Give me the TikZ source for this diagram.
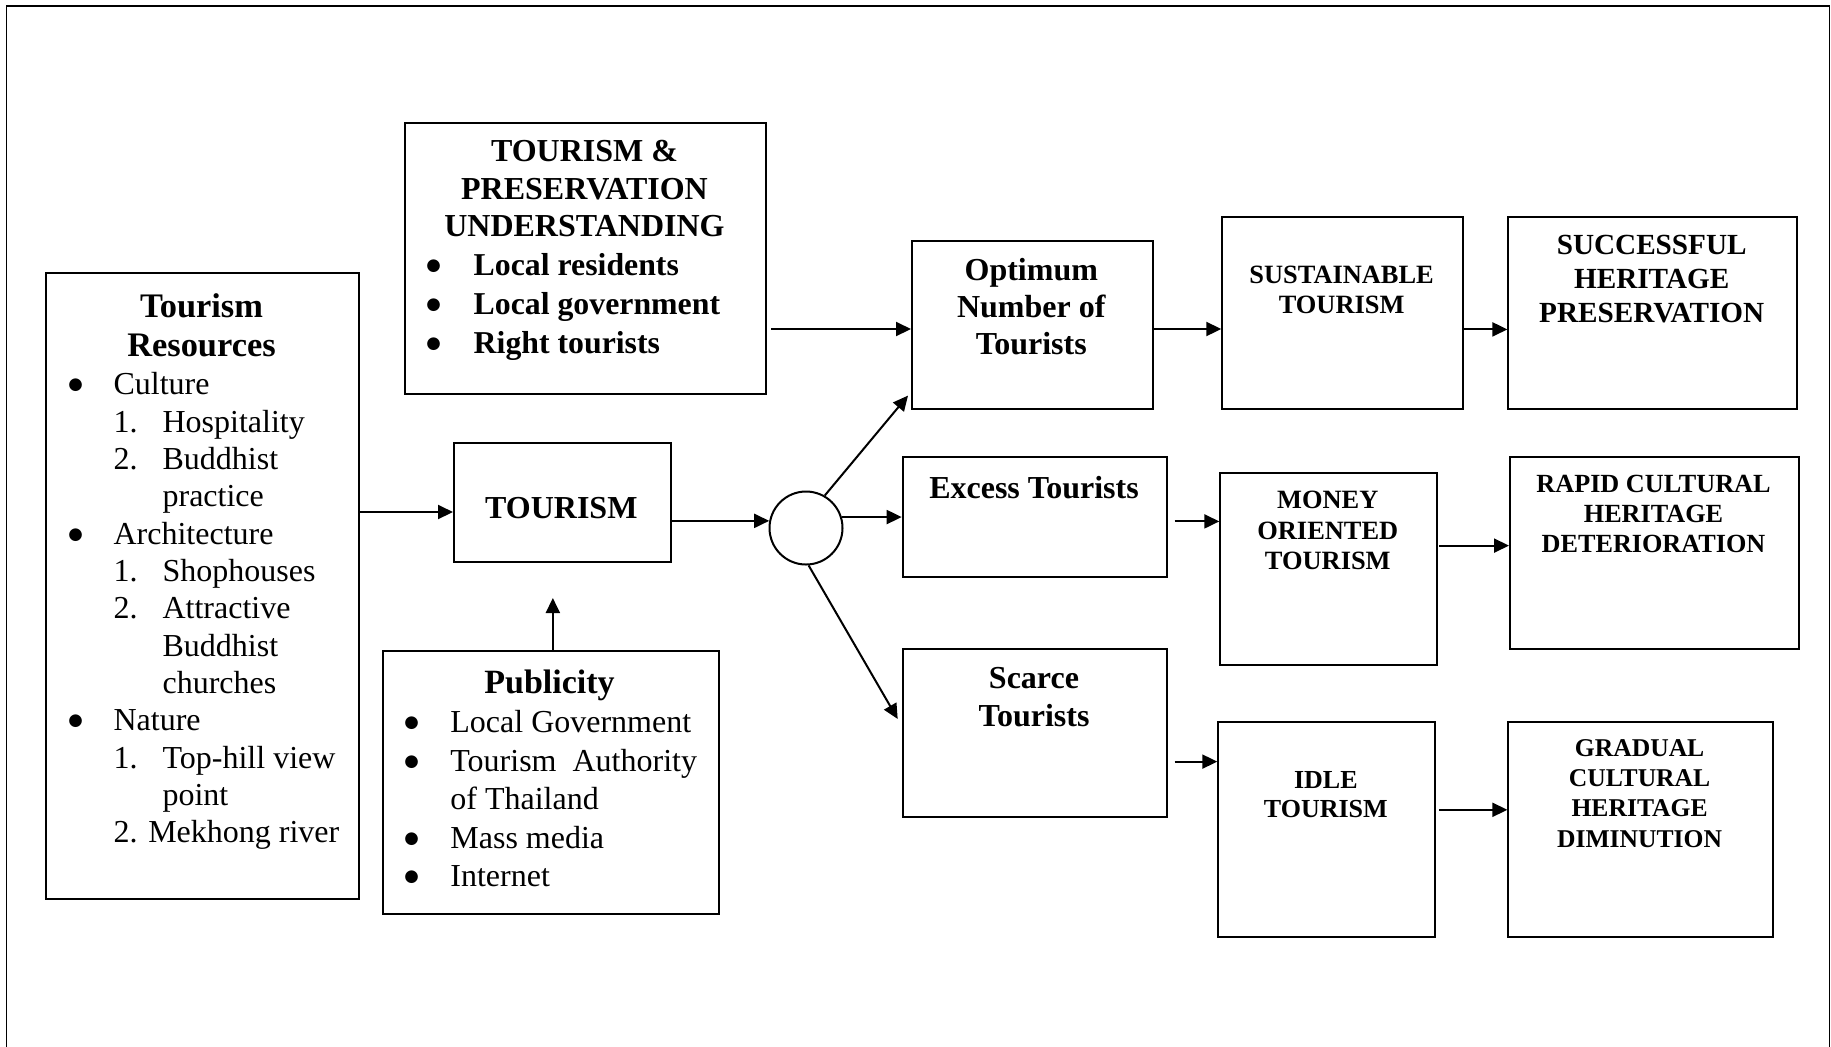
\documentclass[tikz,border=0pt]{standalone}
\usepackage{fontspec}
\setmainfont{Liberation Serif}
\newfontfamily\symfont{DejaVu Sans}
\usetikzlibrary{arrows.meta,calc}

% list helpers: bullet column, number column, hanging indent
\newcommand\bigbul{\raisebox{2.6pt}{\symfont\fontsize{8.3}{9}\selectfont ●}}
\newcommand\itbul[1]{\makebox[#1][l]{\bigbul}}
\newcommand\itnum[1]{\hspace*{22.6pt}\makebox[24.5pt][l]{#1}}
\newcommand\itind{\hspace*{47.1pt}}
\newcommand\fs[2]{\fontsize{#1}{#2}\selectfont}

\begin{document}
\begin{tikzpicture}[x=0.5pt,y=-0.5pt,
  box/.style={draw, line width=1pt, inner sep=0, anchor=north west},
  arr/.style={line width=1pt, -{Triangle[length=7.5pt,width=7pt]}},
  txt/.style={inner sep=0, anchor=base},
  lst/.style={inner sep=0, anchor=base west}]

\useasboundingbox (0,0) rectangle (1831,1046);

% outer frame (open at the bottom)
\draw[line width=0.8pt] (6.5,1060) -- (6.5,6) -- (1829.5,6) -- (1829.5,1060);

% ---------- boxes ----------
\node[box, minimum width=156.5pt, minimum height=313pt]  (tr)   at (45,272) {};
\node[box, minimum width=180.5pt, minimum height=135.5pt](tpu)  at (404,122) {};
\node[box, minimum width=108.35pt,minimum height=59.9pt] (tour) at (453,441.5) {};
\node[box, minimum width=167.85pt,minimum height=131.5pt](pub)  at (382,650) {};
\node[draw, line width=1pt, circle, minimum size=36.5pt, inner sep=0] (circ) at (806,528) {};
\node[box, minimum width=120.35pt,minimum height=83.8pt] (opt)  at (911,240) {};
\node[box, minimum width=132.3pt, minimum height=59.85pt](exc)  at (901.7,456.3) {};
\node[box, minimum width=132.3pt, minimum height=83.95pt](sca)  at (901.7,648) {};
\node[box, minimum width=120.35pt,minimum height=96pt]   (sus)  at (1221.3,216) {};
\node[box, minimum width=144.3pt, minimum height=96pt]   (suc)  at (1507.4,216) {};
\node[box, minimum width=108.45pt,minimum height=96pt]   (mon)  at (1219.3,472) {};
\node[box, minimum width=144.5pt, minimum height=96pt]   (rap)  at (1509,456) {};
\node[box, minimum width=108.45pt,minimum height=107.85pt](idl) at (1217.3,720.6) {};
\node[box, minimum width=132.2pt, minimum height=107.85pt](gra) at (1507.4,720.6) {};

% ---------- texts ----------
\node[txt, font=\bfseries\fs{17.2}{19.5}] (trt) at (201.5,317.3)
  {\parbox[t]{100pt}{\centering Tourism\\Resources}};
\node[lst, font=\fs{16}{18.67}] (trl) at (68,394.9) {\parbox[t]{138pt}{\raggedright
  \itbul{22.6pt}Culture\\
  \itnum{1.}Hospitality\\
  \itnum{2.}Buddhist\\
  \itind practice\\
  \itbul{22.6pt}Architecture\\
  \itnum{1.}Shophouses\\
  \itnum{2.}Attractive\\
  \itind Buddhist\\
  \itind churches\\
  \itbul{22.6pt}Nature\\
  \itnum{1.}Top-hill view\\
  \itind point\\
  \hspace*{22.6pt}2. Mekhong river}};

\node[txt, font=\bfseries\fs{16}{18.8}] (tput) at (584.5,161.7)
  {\parbox[t]{148pt}{\centering TOURISM \&\\PRESERVATION\\UNDERSTANDING}};
\node[lst, font=\bfseries\fs{15.9}{19.6}] (tpul) at (426,275.2) {\parbox[t]{155pt}{\raggedright
  \itbul{23.65pt}Local residents\\
  \itbul{23.65pt}Local government\\
  \itbul{23.65pt}Right tourists}};

\node[txt, font=\bfseries\fs{16}{19}] (tourt) at (561.3,518.4) {TOURISM};

\node[txt, font=\bfseries\fs{17}{19.5}] (pubt) at (549.5,693.6) {Publicity};
\node[lst, font=\fs{16}{19.25}] (publ) at (404,732.8) {\parbox[t]{152pt}{\raggedright
  \itbul{23pt}Local Government\\
  \itbul{23pt}Tourism\ \ Authority\\
  \hspace*{23pt}of Thailand\\
  \itbul{23pt}Mass media\\
  \itbul{23pt}Internet}};

\node[txt, font=\bfseries\fs{16}{18.5}] (optt) at (1031.3,280.2)
  {\parbox[t]{100pt}{\centering Optimum\\Number of\\Tourists}};
\node[txt, font=\bfseries\fs{16}{19}] (exct) at (1034,498.3) {Excess Tourists};
\node[txt, font=\bfseries\fs{16}{18.9}] (scat) at (1034,688.4)
  {\parbox[t]{100pt}{\centering Scarce\\Tourists}};

\node[txt, font=\bfseries\fs{13.2}{14.8}] (sust) at (1341.6,283.4)
  {\parbox[t]{105pt}{\centering SUSTAINABLE\\TOURISM}};
\node[txt, font=\bfseries\fs{14.6}{17}] (suct) at (1651.7,254.3)
  {\parbox[t]{130pt}{\centering SUCCESSFUL\\HERITAGE\\PRESERVATION}};
\node[txt, font=\bfseries\fs{13.2}{15.15}] (mont) at (1327.8,508.8)
  {\parbox[t]{100pt}{\centering MONEY\\ORIENTED\\TOURISM}};
\node[txt, font=\bfseries\fs{13.1}{15.15}] (rapt) at (1653.5,492.3)
  {\parbox[t]{135pt}{\centering RAPID CULTURAL\\HERITAGE\\DETERIORATION}};
\node[txt, font=\bfseries\fs{13}{14.5}] (idlt) at (1325.8,788)
  {\parbox[t]{100pt}{\centering IDLE\\TOURISM}};
\node[txt, font=\bfseries\fs{12.8}{15.1}] (grat) at (1639.6,756.5)
  {\parbox[t]{120pt}{\centering GRADUAL\\CULTURAL\\HERITAGE\\DIMINUTION}};

% ---------- connectors ----------
\draw[arr] (tr.east |- 0,512) -- (tour.west |- 0,512);
\draw[arr] (tour.east |- circ.169) -- (circ.169);
\draw[arr] ([xshift=1pt]pub.north) -- ++(0,-52);
\draw[arr, shorten <=2pt] (tpu.east |- 0,329) -- (opt.west |- 0,329);

\draw[arr] (circ.60) -- ($(opt.south west)+(-3,-14)$);
\draw[arr] (circ.17.5) -- (exc.west |- circ.17.5);
\draw[arr] (circ.-86) -- ($(sca.north west)+(-4,71)$);

\draw[arr] (opt.east |- 0,329) -- (sus.west |- 0,329);
\draw[arr, shorten <=3.2pt] (exc.east |- 0,521.4) -- (mon.west |- 0,521.4);
\draw[arr, shorten <=3.2pt] (sca.east |- 0,761.6) -- (idl.west |- 0,761.6);
\draw[arr] (sus.east |- 0,329.4) -- (suc.west |- 0,329.4);
\draw[arr, shorten <=0.6pt] (mon.east |- 0,545.6) -- (rap.west |- 0,545.6);
\draw[arr, shorten <=1.4pt] (idl.east |- 0,809.8) -- (gra.west |- 0,809.8);
\end{tikzpicture}
\end{document}
